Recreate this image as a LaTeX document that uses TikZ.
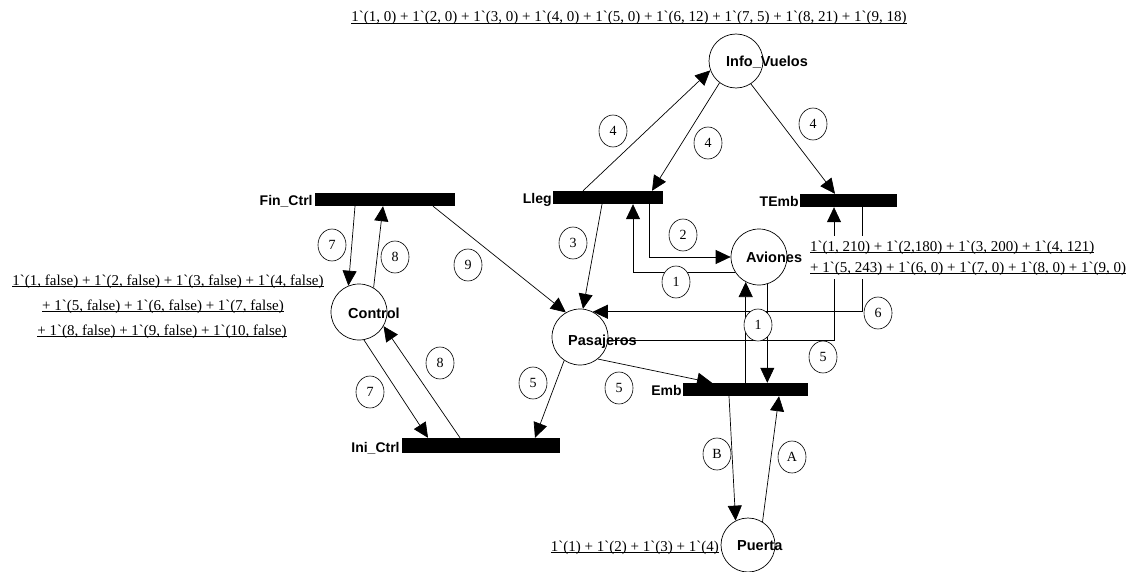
\documentclass[tikz,border=0pt]{standalone}
\usepackage{fontspec}
\setmainfont{Liberation Serif}
\newfontfamily\arialfont{Liberation Sans}
\usetikzlibrary{arrows.meta,shapes.geometric}
\newcommand\tk{1\textasciigrave}
\newcommand\markul[1]{\setbox0\hbox{#1}\rlap{\rule[-2pt]{\wd0}{0.7pt}}\box0}
\begin{document}
\begin{tikzpicture}[x=1pt,y=-1pt,
 place/.style={draw,circle,line width=0.7pt,minimum size=56pt,inner sep=0pt},
 trans/.style={fill=black,inner sep=0pt,minimum height=13pt},
 tlab/.style={font=\arialfont\bfseries\fontsize{14}{16}\selectfont,inner sep=0pt,anchor=base east},
 plab/.style={font=\arialfont\bfseries\fontsize{14.5}{16}\selectfont,inner sep=0pt,anchor=base west},
 insc/.style={draw,ellipse,fill=white,line width=0.6pt,minimum width=28pt,minimum height=32pt,inner sep=0pt,font=\fontsize{14}{15}\selectfont},
 mk/.style={font=\fontsize{15}{17}\selectfont,inner sep=0pt},
 arc/.style={line width=0.7pt,-{Triangle[length=15pt,width=14pt]}}
]
\useasboundingbox (0,0) rectangle (1139,572);
% transitions
\node[trans,minimum width=140pt] (fin) at (385,199.5) {};
\node[trans,minimum width=110pt] (lleg) at (608,197.5) {};
\node[trans,minimum width=97pt] (temb) at (848.5,200.5) {};
\node[trans,minimum width=125pt] (emb) at (745.5,389.5) {};
\node[trans,minimum width=158pt,minimum height=15pt] (ini) at (481,445.5) {};
\node[tlab] (finL) at ([xshift=-2pt,yshift=1pt]fin.south west) {Fin\_Ctrl};
\node[tlab] (llegL) at ([xshift=-1pt,yshift=1pt]lleg.south west) {Lleg};
\node[tlab] (tembL) at ([xshift=-1pt,yshift=1pt]temb.south west) {TEmb};
\node[tlab] (embL) at ([xshift=-1pt,yshift=1pt]emb.south west) {Emb};
\node[tlab] (iniL) at ([xshift=-2pt,yshift=1pt]ini.south west) {Ini\_Ctrl};
% places
\node[place,minimum size=54pt] (info) at (736,61) {};
\node[place] (aviones) at (759,257) {};
\node[place] (control) at (359,312) {};
\node[place] (pasajeros) at (580,337) {};
\node[place,minimum size=54pt] (puerta) at (748,545) {};
\node[plab] (infoL) at (726,67) {Info\_Vuelos};
\node[plab] (avionesL) at (746,262) {Aviones};
\node[plab] (controlL) at (348,318) {Control};
\node[plab] (pasajerosL) at (568,345) {Pasajeros};
\node[plab] (puertaL) at (737,550) {Puerta};
% arcs
\draw[arc] (583,0 |- lleg.north) -- (info.200);
\draw[arc] (info.233) -- (652,0 |- lleg.north);
\draw[arc] (info.303) -- (835,0 |- temb.north);
\draw[arc] (602,0 |- lleg.south) -- (pasajeros.84);
\draw[arc] (649,0 |- lleg.south) |- (aviones.west);
\draw[arc] (aviones.213) -| (633,0 |- lleg.south);
\draw[arc] (862,0 |- temb.south) |- (pasajeros.63);
\draw[arc] (pasajeros.-6) -| (834,0 |- temb.south);
\draw[arc] (aviones.242 |- emb.north) -- (aviones.242);
\draw[arc] (aviones.287) -- (aviones.287 |- emb.north);
\draw[arc] (pasajeros.309) -- (712,0 |- emb.north);
\draw[arc] (pasajeros.236) -- (535,0 |- ini.north);
\draw[arc] (433,0 |- fin.south) -- (pasajeros.120);
\draw[arc] (355,0 |- fin.south) -- (control.112);
\draw[arc] (control.59) -- (383,0 |- fin.south);
\draw[arc] (control.280) -- (428,0 |- ini.north);
\draw[arc] (460,0 |- ini.north) -- (control.-30);
\draw[arc] (729,0 |- emb.south) -- (puerta.117);
\draw[arc] (puerta.58) -- (779,0 |- emb.south);
% inscriptions
\node[insc] (i4a) at (613,131) {4};
\node[insc] (i4b) at (708,143) {4};
\node[insc] (i4c) at (813,124) {4};
\node[insc] (i3) at (573,243) {3};
\node[insc] (i2) at (683,235) {2};
\node[insc] (i1a) at (676,282) {1};
\node[insc] (i1b) at (758,325) {1};
\node[insc] (i6) at (878,313) {6};
\node[insc] (i5a) at (823,357) {5};
\node[insc] (i5b) at (619,388) {5};
\node[insc] (i5c) at (533,383) {5};
\node[insc] (i7a) at (332,245) {7};
\node[insc] (i8a) at (395,257) {8};
\node[insc] (i9) at (468,265) {9};
\node[insc] (i8b) at (440,363) {8};
\node[insc] (i7b) at (370,392) {7};
\node[insc] (iB) at (717,454) {B};
\node[insc] (iA) at (792,457) {A};
% markings
\node[mk,anchor=base] (mInfo) at (629,22) {\markul{\tk(1, 0) + \tk(2, 0) + \tk(3, 0) + \tk(4, 0) + \tk(5, 0) + \tk(6, 12) + \tk(7, 5) + \tk(8, 21) + \tk(9, 18)}};
\node[mk,anchor=base] (mCtl1) at (168,285) {\markul{\tk(1, false) + \tk(2, false) + \tk(3, false) + \tk(4, false)}};
\node[mk,anchor=base] (mCtl2) at (163,310) {\markul{+ \tk(5, false) + \tk(6, false) + \tk(7, false)}};
\node[mk,anchor=base] (mCtl3) at (162,335) {\markul{+ \tk(8, false) + \tk(9, false) + \tk(10, false)}};
\node[mk,anchor=base west,fill=white,inner ysep=5pt] (mAv1) at (810,251) {\markul{\tk(1, 210) + \tk(2,180) + \tk(3, 200) + \tk(4, 121)}};
\node[mk,anchor=base west,fill=white,inner ysep=4pt] (mAv2) at (810,272) {\markul{+ \tk(5, 243) + \tk(6, 0) + \tk(7, 0) + \tk(8, 0) + \tk(9, 0)}};
\node[mk,anchor=base east] (mPu) at (719,551) {\markul{\tk(1) + \tk(2) + \tk(3) + \tk(4)}};
\end{tikzpicture}
\end{document}
